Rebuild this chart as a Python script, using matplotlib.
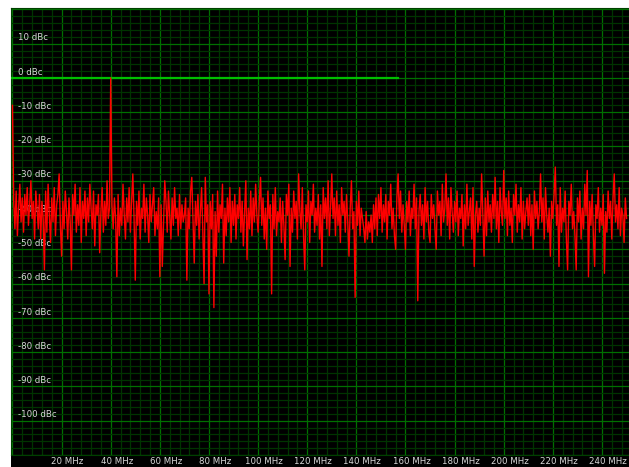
import matplotlib
matplotlib.use('Agg')
import matplotlib.pyplot as plt
import matplotlib.transforms as mtransforms
from matplotlib.patches import Rectangle
import numpy as np

# spectrum, one value every 0.5 MHz from 0 to 250 MHz (dBc)
step_mhz = 0.5
spectrum_dbc = [
    -8, -36, -44, -33, -46, -38, -31, -42, -35, -45, -34, -40, -32, -43, -37, -30, -41, -36, -47, -33,
    -38, -44, -34, -47, -36, -41, -56, -33, -45, -31, -40, -48, -35, -42, -32, -46, -37, -34, -28, -43,
    -52, -36, -44, -33, -39, -47, -35, -42, -56, -34, -40, -31, -45, -37, -43, -32, -48, -36, -41, -33,
    -46, -35, -42, -31, -38, -44, -33, -49, -37, -40, -34, -51, -39, -32, -45, -36, -43, -30, -41, -38,
    0, -37, -44, -35, -41, -58, -34, -46, -38, -43, -31, -40, -47, -35, -42, -32, -45, -36, -28, -41,
    -59, -36, -43, -33, -47, -38, -41, -31, -45, -35, -40, -48, -34, -42, -37, -32, -46, -39, -44, -35,
    -58, -37, -55, -42, -30, -36, -45, -33, -40, -47, -35, -43, -32, -41, -38, -46, -34, -44, -37, -42,
    -40, -35, -59, -38, -44, -33, -29, -41, -54, -36, -43, -34, -47, -39, -32, -45, -60, -29, -42, -37,
    -63, -36, -44, -34, -67, -39, -52, -33, -45, -37, -41, -31, -54, -38, -46, -35, -42, -32, -48, -36,
    -43, -34, -47, -37, -41, -32, -45, -36, -49, -39, -30, -53, -38, -44, -33, -46, -35, -42, -31, -40,
    -45, -36, -29, -43, -35, -47, -38, -50, -33, -41, -37, -63, -34, -44, -32, -46, -39, -42, -35, -48,
    -36, -43, -53, -34, -40, -31, -55, -38, -45, -33, -41, -36, -47, -28, -39, -44, -32, -46, -56, -37,
    -42, -33, -48, -36, -40, -31, -45, -38, -43, -34, -47, -37, -55, -32, -41, -35, -44, -30, -46, -38,
    -28, -41, -35, -46, -33, -43, -37, -48, -32, -40, -36, -45, -34, -42, -52, -38, -30, -44, -39, -64,
    -36, -43, -33, -46, -38, -41, -44, -48, -39, -47, -42, -45, -40, -48, -37, -44, -35, -46, -34, -41,
    -32, -45, -37, -42, -34, -47, -36, -40, -31, -44, -38, -46, -50, -35, -28, -41, -33, -45, -37, -43,
    -50, -36, -42, -33, -46, -38, -41, -31, -44, -35, -65, -39, -34, -43, -37, -47, -32, -42, -36, -45,
    -48, -34, -41, -37, -44, -50, -33, -40, -36, -46, -31, -42, -38, -28, -43, -35, -47, -32, -39, -45,
    -36, -42, -33, -46, -38, -41, -34, -49, -37, -44, -31, -43, -39, -35, -47, -32, -55, -40, -36, -45,
    -38, -43, -28, -40, -52, -35, -46, -33, -42, -37, -45, -34, -41, -29, -44, -36, -48, -32, -39, -43,
    -27, -41, -35, -46, -33, -43, -38, -48, -34, -40, -31, -45, -37, -42, -32, -47, -36, -44, -39, -35,
    -43, -34, -46, -37, -50, -33, -41, -36, -44, -39, -28, -42, -35, -47, -32, -40, -45, -38, -52, -36,
    -41, -34, -26, -43, -37, -55, -32, -45, -38, -42, -33, -47, -56, -36, -40, -31, -44, -39, -46, -56,
    -35, -42, -33, -47, -38, -44, -31, -40, -27, -58, -36, -43, -34, -46, -55, -37, -41, -32, -45, -38,
    -43, -34, -57, -39, -45, -33, -41, -36, -47, -35, -28, -42, -37, -44, -32, -46, -38, -40, -48, -35,
    -41,
]
freq_mhz = np.arange(len(spectrum_dbc)) * step_mhz

# reference marker line at 0 dBc
ref_level = 0
ref_end_mhz = 157

x_ticks = [20, 40, 60, 80, 100, 120, 140, 160, 180, 200, 220, 240]
y_ticks = [10, 0, -10, -20, -30, -40, -50, -60, -70, -80, -90, -100]

W, H = 629, 467
fig = plt.figure(figsize=(W / 100, H / 100), dpi=100)
fig.patch.set_facecolor('white')
ax = fig.add_axes([11 / W, 12 / H, 618 / W, 447 / H])
ax.set_facecolor('black')
ax.set_xlim(-0.6, 251)
ax.set_ylim(-110, 20.4)

# grid
for f in np.arange(0, 252, 4):
    major = f % 20 == 0
    ax.axvline(f, color='#007000' if major else '#003400', lw=0.9, zorder=1)
for d in np.arange(-110, 22, 2):
    major = d % 10 == 0
    ax.axhline(d, color='#007000' if major else '#003400', lw=0.9, zorder=1)

for s in ax.spines.values():
    s.set_color('#004000')
ax.set_xticks([])
ax.set_yticks([])

# y labels inside the plot, under the trace
ylab_tr = mtransforms.blended_transform_factory(ax.transAxes, ax.transData)
for d in y_ticks:
    ax.text(0.011, d + 0.4, f'{d} dBc', transform=ylab_tr, color='#d8d8d8',
            fontsize=6.2, ha='left', va='bottom', zorder=2)

ax.plot([0, ref_end_mhz], [ref_level, ref_level], color='#00c000', lw=1.6, zorder=3)
ax.plot(freq_mhz, spectrum_dbc, color='#ff0000', lw=1.0, zorder=4)

# black band for frequency labels (behind the axes)
fig.patches.append(Rectangle((11 / W, 0), 618 / W, 12 / H, transform=fig.transFigure,
                             facecolor='black', edgecolor='none', zorder=-1))
for f in x_ticks:
    xf = ax.transData.transform((f, 0))[0] + 6
    fig.text(xf / W, 6 / H, f'{f} MHz', color='#d8d8d8', fontsize=6.2,
             ha='center', va='center', zorder=5)

fig.savefig('out.png', dpi=100, facecolor='white')
plt.close()
